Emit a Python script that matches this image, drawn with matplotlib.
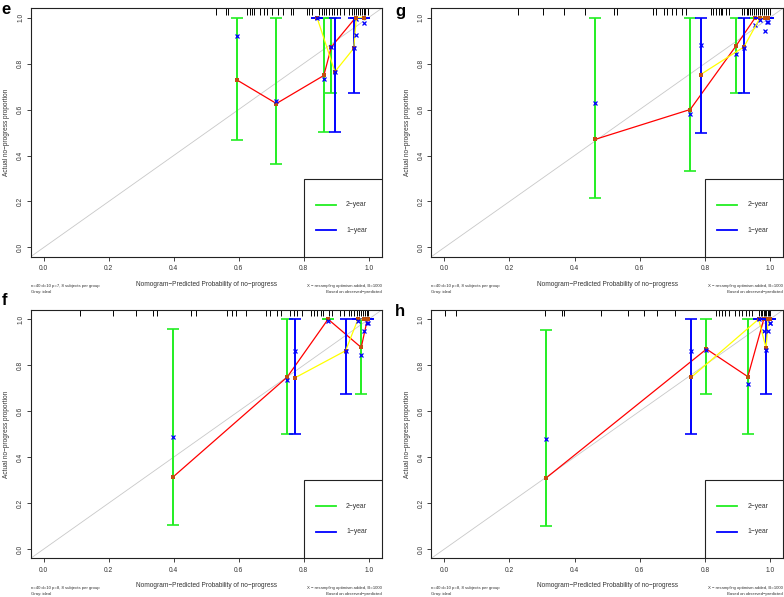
import matplotlib
matplotlib.use("Agg")
import matplotlib.pyplot as plt
from matplotlib.patches import Rectangle

W, H = 784, 597
plt.rcParams["font.family"] = ["Liberation Sans", "DejaVu Sans"]

# ---- panel e ----
e_pred2 = [0.595, 0.716, 0.862, 0.885, 0.960]
e_obs2 = [0.728, 0.626, 0.748, 0.872, 1.0]
e_lo2 = [0.467, 0.363, 0.501, 0.672, 1.0]
e_hi2 = [1.0, 1.0, 1.0, 1.0, 1.0]
e_cor2 = [0.918, 0.635, 0.733, 0.871, 0.995]
e_pred1 = [0.841, 0.896, 0.954, 0.962, 0.985]
e_obs1 = [1.0, 0.764, 0.866, 1.0, 1.0]
e_lo1 = [1.0, 0.501, 0.672, 1.0, 1.0]
e_hi1 = [1.0, 1.0, 1.0, 1.0, 1.0]
e_cor1 = [1.0, 0.764, 0.866, 0.922, 0.974]
e_rug = [0.529, 0.560, 0.567, 0.626, 0.634, 0.640, 0.647, 0.665, 0.678, 0.688,
         0.703, 0.721, 0.737, 0.760, 0.768, 0.809, 0.816, 0.824, 0.847, 0.855,
         0.862, 0.870, 0.878, 0.886, 0.893, 0.902, 0.913, 0.923, 0.939, 0.949,
         0.955, 0.961, 0.967, 0.972, 0.978, 0.984, 0.990, 0.998]
e_note = "n=40 d=10 p=7, 8 subjects per group"

# ---- panel g ----
g_pred2 = [0.463, 0.755, 0.895, 0.955, 0.990]
g_obs2 = [0.47, 0.60, 0.875, 1.0, 1.0]
g_lo2 = [0.215, 0.333, 0.673, 1.0, 1.0]
g_hi2 = [1.0, 1.0, 1.0, 1.0, 1.0]
g_cor2 = [0.63, 0.58, 0.84, 0.967, 0.981]
g_pred1 = [0.787, 0.920, 0.970, 0.985, 0.995]
g_obs1 = [0.752, 0.872, 1.0, 1.0, 1.0]
g_lo1 = [0.50, 0.673, 1.0, 1.0, 1.0]
g_hi1 = [1.0, 1.0, 1.0, 1.0, 1.0]
g_cor1 = [0.88, 0.868, 0.988, 0.942, 0.981]
g_rug = [0.225, 0.304, 0.368, 0.432, 0.521, 0.529, 0.642, 0.649, 0.675, 0.685,
         0.700, 0.711, 0.731, 0.741, 0.818, 0.826, 0.834, 0.842, 0.849, 0.854,
         0.864, 0.874, 0.915, 0.921, 0.928, 0.934, 0.940, 0.946, 0.952, 0.958,
         0.964, 0.970, 0.976, 0.982, 0.988, 0.994, 0.999]
g_note = "n=40 d=10 p=8, 8 subjects per group"

# ---- panel f ----
f_pred2 = [0.399, 0.749, 0.875, 0.977, 0.996]
f_obs2 = [0.315, 0.748, 1.0, 0.877, 1.0]
f_lo2 = [0.105, 0.50, 1.0, 0.673, 1.0]
f_hi2 = [0.957, 1.0, 1.0, 1.0, 1.0]
f_cor2 = [0.487, 0.735, 0.99, 0.845, 0.985]
f_pred1 = [0.773, 0.929, 0.967, 0.985, 0.999]
f_obs1 = [0.745, 0.863, 1.0, 1.0, 1.0]
f_lo1 = [0.50, 0.673, 1.0, 1.0, 1.0]
f_hi1 = [1.0, 1.0, 1.0, 1.0, 1.0]
f_cor1 = [0.863, 0.863, 0.99, 0.95, 0.985]
f_rug = [0.111, 0.212, 0.283, 0.335, 0.348, 0.452, 0.468, 0.565, 0.580, 0.591,
         0.621, 0.683, 0.696, 0.719, 0.729, 0.757, 0.770, 0.780, 0.795, 0.821,
         0.831, 0.841, 0.852, 0.860, 0.877, 0.888, 0.913, 0.923, 0.939, 0.947,
         0.954, 0.964, 0.970, 0.976, 0.982, 0.988, 0.994, 0.999]
f_note = "n=40 d=10 p=8, 8 subjects per group"

# ---- panel h ----
h_pred2 = [0.313, 0.805, 0.932, 0.981, 1.0]
h_obs2 = [0.31, 0.87, 0.75, 1.0, 1.0]
h_lo2 = [0.10, 0.673, 0.50, 1.0, 1.0]
h_hi2 = [0.955, 1.0, 1.0, 1.0, 1.0]
h_cor2 = [0.48, 0.868, 0.72, 0.95, 0.985]
h_pred1 = [0.758, 0.965, 0.988, 0.995, 1.0]
h_obs1 = [0.747, 1.0, 0.875, 1.0, 1.0]
h_lo1 = [0.50, 1.0, 0.673, 1.0, 1.0]
h_hi1 = [1.0, 1.0, 1.0, 1.0, 1.0]
h_cor1 = [0.862, 1.0, 0.868, 0.95, 0.985]
h_rug = [0.002, 0.035, 0.310, 0.361, 0.366, 0.482, 0.564, 0.612, 0.653, 0.708,
         0.833, 0.843, 0.853, 0.863, 0.874, 0.894, 0.905, 0.915, 0.925, 0.935,
         0.946, 0.966, 0.971, 0.976, 0.981, 0.985, 0.989, 0.993, 0.996, 0.999]
h_note = "n=40 d=10 p=8, 8 subjects per group"

x_ticks = [0.0, 0.2, 0.4, 0.6, 0.8, 1.0]
y_ticks = [0.0, 0.2, 0.4, 0.6, 0.8, 1.0]
legend_labels = ["2\u2212year", "1\u2212year"]
xlabel = "Nomogram\u2212Predicted Probability of no\u2212progress"
ylabel = "Actual no\u2212progress proportion"
note_left2 = "Gray: ideal"
note_right1 = "X \u2212 resampling optimism added, B=1000"
note_right2 = "Based on observed\u2212predicted"

GREEN = "#22ee22"
BLUE = "#0000ff"
RED = "#ff0000"
YELLOW = "#ffff00"
DARK = "#222222"
TXT = "#333333"


def fx(px):
    return px / W


def fy(py):
    return 1 - py / H


panels = [
    ("e", (30.7, 8.3, 381.7, 256.7), (1.5, 13.5),
     (e_pred2, e_obs2, e_lo2, e_hi2, e_cor2), (e_pred1, e_obs1, e_lo1, e_hi1, e_cor1), e_rug, e_note),
    ("g", (431.3, 8.3, 783.0, 256.7), (395.0, 16.0),
     (g_pred2, g_obs2, g_lo2, g_hi2, g_cor2), (g_pred1, g_obs1, g_lo1, g_hi1, g_cor1), g_rug, g_note),
    ("f", (30.7, 310.0, 381.7, 558.3), (1.5, 305.0),
     (f_pred2, f_obs2, f_lo2, f_hi2, f_cor2), (f_pred1, f_obs1, f_lo1, f_hi1, f_cor1), f_rug, f_note),
    ("h", (431.3, 310.0, 783.0, 558.3), (395.0, 316.5),
     (h_pred2, h_obs2, h_lo2, h_hi2, h_cor2), (h_pred1, h_obs1, h_lo1, h_hi1, h_cor1), h_rug, h_note),
]


def draw_group(ax, grp, bar_col, line_col, z):
    pred, obs, lo, hi, cor = grp
    err = [[o - l for o, l in zip(obs, lo)], [h - o for o, h in zip(obs, hi)]]
    ax.errorbar(pred, obs, yerr=err, fmt="none", ecolor=bar_col, elinewidth=1.4,
                capsize=4.3, capthick=1.2, zorder=z)
    ax.plot(pred, obs, color=line_col, lw=0.9, zorder=z + 1)
    ax.plot(pred, obs, ls="none", marker="s", ms=2.2, mew=0, color="#c05010", zorder=z + 2)
    ax.plot(pred, cor, ls="none", marker="x", ms=3.0, mew=0.9, color=BLUE, zorder=z + 3)


fig = plt.figure(figsize=(W / 100, H / 100), dpi=100)

for letter, (l, t, r, b), (lx, ly), grp2, grp1, rug, note in panels:
    ax = fig.add_axes([fx(l), fy(b), fx(r - l), (b - t) / H])
    ax.set_xlim(-0.04, 1.04)
    ax.set_ylim(-0.04, 1.04)

    ax.plot([-0.04, 1.04], [-0.04, 1.04], color="#c8c8c8", lw=0.6, zorder=1)
    ax.vlines(rug, 1.04 - 0.027, 1.04, color="black", lw=0.7, zorder=2)

    draw_group(ax, grp2, GREEN, RED, 3)
    draw_group(ax, grp1, BLUE, YELLOW, 8)

    # legend box
    ax.add_patch(Rectangle((0.80, -0.06), 0.30, 0.36, fill=False, ec=DARK, lw=0.8, zorder=12))
    for yy, col, lab in [(0.186, GREEN, legend_labels[0]), (0.075, BLUE, legend_labels[1])]:
        ax.plot([0.837, 0.899], [yy, yy], color=col, lw=1.3, zorder=13)
        ax.text(0.93, yy, lab, fontsize=4.9, va="center", ha="left", color=TXT, zorder=13)

    ax.set_xticks(x_ticks)
    ax.set_yticks(y_ticks)
    ax.set_xticklabels([f"{v:.1f}" for v in x_ticks])
    ax.set_yticklabels([f"{v:.1f}" for v in y_ticks], rotation=90, va="center")
    ax.tick_params(axis="both", length=3, width=0.6, color=DARK, labelsize=4.8,
                   labelcolor=TXT)
    ax.tick_params(axis="x", pad=3.2)
    ax.tick_params(axis="y", pad=1.8)
    for sp in ax.spines.values():
        sp.set_color(DARK)
        sp.set_linewidth(0.8)

    cx = (l + r) / 2
    fig.text(fx(cx), fy(b + 27.3), xlabel, fontsize=4.7, ha="center", va="center", color=TXT)
    fig.text(fx(l - 24), fy((t + b) / 2), ylabel, fontsize=4.7, rotation=90,
             ha="center", va="center", color=TXT)
    fig.text(fx(l), fy(b + 29.5), note, fontsize=3.1, ha="left", va="center", color=TXT)
    fig.text(fx(l), fy(b + 35.8), note_left2, fontsize=3.1, ha="left", va="center", color=TXT)
    fig.text(fx(r), fy(b + 29.5), note_right1, fontsize=3.1, ha="right", va="center", color=TXT)
    fig.text(fx(r), fy(b + 35.8), note_right2, fontsize=3.1, ha="right", va="center", color=TXT)

    fig.text(fx(lx), fy(ly), letter, fontsize=12, fontweight="bold", ha="left", va="baseline")

fig.savefig("out.png", dpi=100)
